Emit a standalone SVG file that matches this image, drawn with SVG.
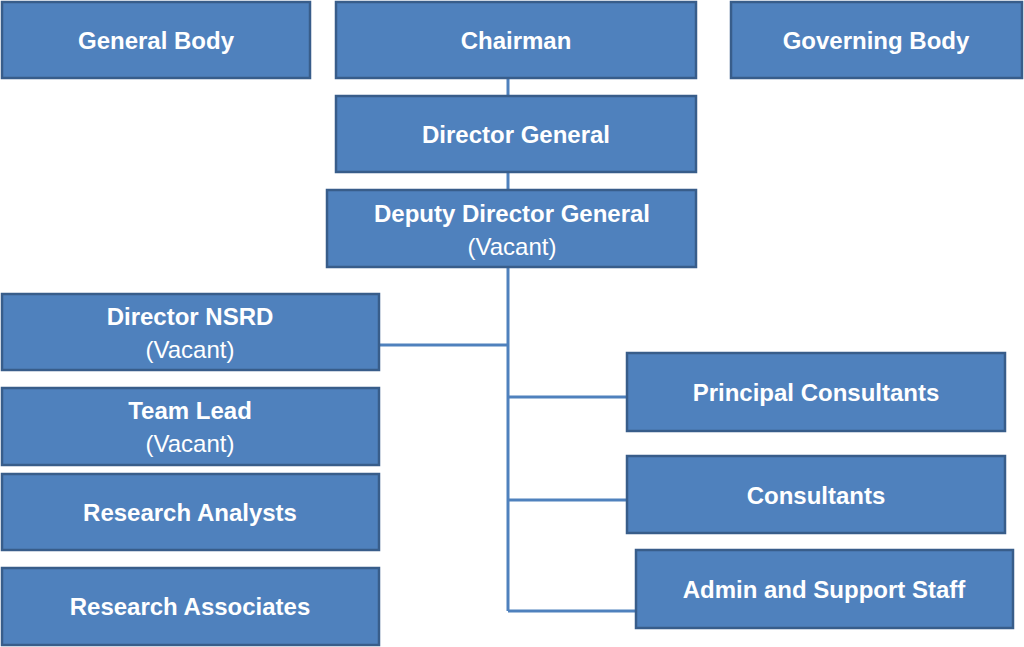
<svg xmlns="http://www.w3.org/2000/svg" width="1024" height="647" viewBox="0 0 1024 647">
<style>
.b{fill:#4f81bd;stroke:#385d8a;stroke-width:2.5}
.t{font-family:"Liberation Sans",Arial,sans-serif;font-size:24px;font-weight:bold;fill:#fff;text-anchor:middle}
.r{font-weight:normal}
.c{stroke:#4f81bd;stroke-width:3;fill:none}
</style>
<rect width="1024" height="647" fill="#fff"/>
<g id="connectors">
<path class="c" d="M508 78V611M379 345H508M508 397H627M508 500H627M508 611H636"/>
</g>
<g id="general-body"><rect class="b" x="2" y="2" width="308" height="76"/><text class="t" x="156" y="49">General Body</text></g>
<g id="chairman"><rect class="b" x="336" y="2" width="360" height="76"/><text class="t" x="516" y="49">Chairman</text></g>
<g id="governing-body"><rect class="b" x="731" y="2" width="291" height="76"/><text class="t" x="876" y="49">Governing Body</text></g>
<g id="director-general"><rect class="b" x="336" y="96" width="360" height="76"/><text class="t" x="516" y="143">Director General</text></g>
<g id="deputy-dg"><rect class="b" x="327" y="190" width="369" height="77"/><text class="t" x="512" y="222">Deputy Director General</text><text class="t r" x="512" y="255">(Vacant)</text></g>
<g id="director-nsrd"><rect class="b" x="2" y="294" width="377" height="76"/><text class="t" x="190" y="325">Director NSRD</text><text class="t r" x="190" y="358">(Vacant)</text></g>
<g id="team-lead"><rect class="b" x="2" y="388" width="377" height="77"/><text class="t" x="190" y="419">Team Lead</text><text class="t r" x="190" y="452">(Vacant)</text></g>
<g id="research-analysts"><rect class="b" x="2" y="474" width="377" height="76"/><text class="t" x="190" y="521">Research Analysts</text></g>
<g id="research-associates"><rect class="b" x="2" y="568" width="377" height="77"/><text class="t" x="190" y="615">Research Associates</text></g>
<g id="principal-consultants"><rect class="b" x="627" y="353" width="378" height="78"/><text class="t" x="816" y="401">Principal Consultants</text></g>
<g id="consultants"><rect class="b" x="627" y="456" width="378" height="77"/><text class="t" x="816" y="504">Consultants</text></g>
<g id="admin-staff"><rect class="b" x="636" y="550" width="377" height="78"/><text class="t" x="824" y="598">Admin and Support Staff</text></g>
</svg>
